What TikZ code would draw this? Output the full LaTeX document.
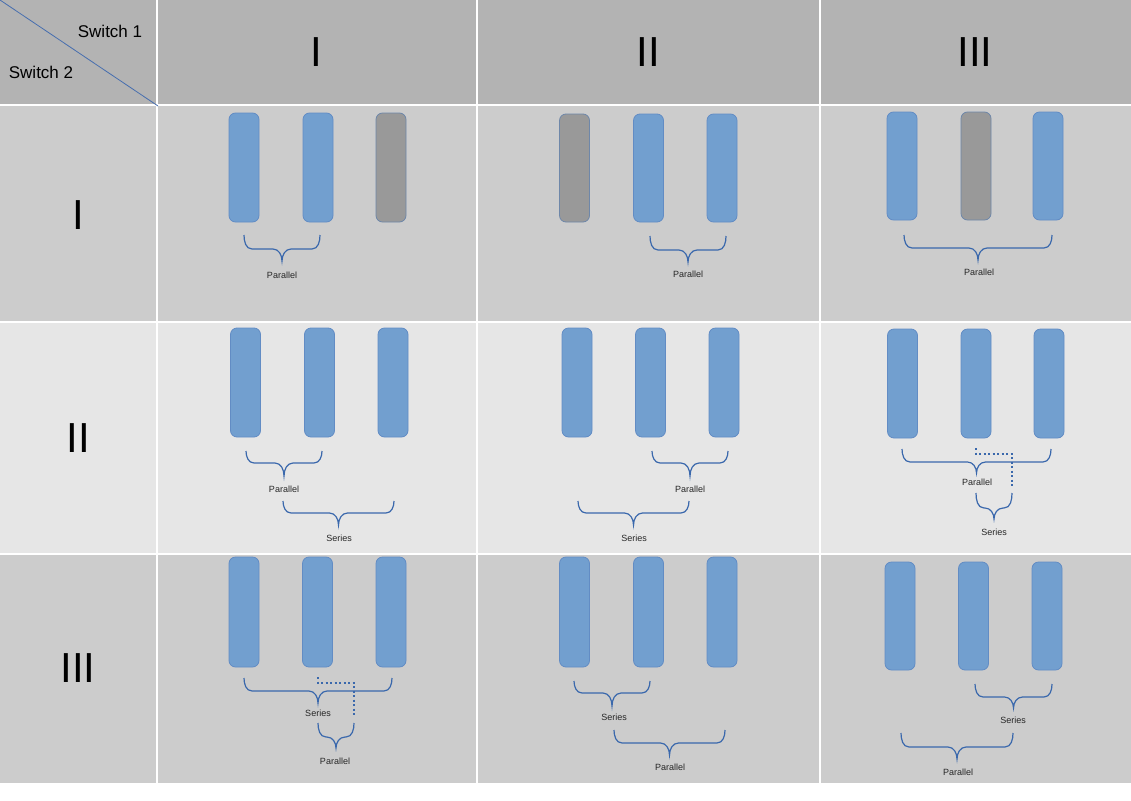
\documentclass[tikz,border=0pt]{standalone}
\usepackage{fontspec}
\setmainfont{Liberation Sans}
\definecolor{hdr}{HTML}{B3B3B3}
\definecolor{rowa}{HTML}{CCCCCC}
\definecolor{rowb}{HTML}{E6E6E6}
\definecolor{barfill}{RGB}{114,159,207}
\definecolor{barline}{RGB}{98,140,196}
\definecolor{grayfill}{HTML}{999999}
\definecolor{brcol}{RGB}{58,104,172}
\tikzset{
  bar/.style={draw=barline, fill=barfill, line width=0.8pt, rounded corners=6.5pt,
    minimum width=30pt, minimum height=109pt, inner sep=0pt, outer sep=0pt},
  offbar/.style={bar, fill=grayfill, draw=barline!60!gray},
  brc/.style={draw=brcol, line width=1.2pt},
  dots/.style={draw=brcol, line width=1.3pt, dash pattern=on 2pt off 2.5pt},
  lbl/.style={font=\fontsize{9}{10}\selectfont, text=black!85, inner sep=0pt},
  big/.style={font=\fontsize{42}{48}\selectfont, inner sep=0pt},
  sw/.style={font=\fontsize{17}{20}\selectfont, inner sep=0pt},
  grid/.style={draw=white, line width=2pt}
}
\newcommand{\mybrace}[5]{%
  \pgfmathsetmacro\brcmid{(#1+#2)/2}%
  \draw[brc] (#1,#3) to[out=-90,in=180] (#1+8,#4) -- (\brcmid-9,#4)
    to[out=0,in=90] (\brcmid,#5) to[out=90,in=180] (\brcmid+9,#4)
    -- (#2-8,#4) to[out=0,in=-90] (#2,#3);}
\begin{document}
\begin{tikzpicture}[x=1pt,y=-1pt]
\useasboundingbox (0,0) rectangle (1131,800);
\fill[white] (0,0) rectangle (1131,800);
% backgrounds
\fill[hdr] (0,0) rectangle (1131,105);
\fill[rowa] (0,105) rectangle (1131,322);
\fill[rowb] (0,322) rectangle (1131,554);
\fill[rowa] (0,554) rectangle (1131,783);
% grid
\foreach \gx in {157,477,820} \draw[grid] (\gx,0) -- (\gx,783);
\foreach \gy in {105,322,554} \draw[grid] (0,\gy) -- (1131,\gy);
% corner
\draw[draw={rgb,255:red,70;green,110;blue,175}, line width=0.8pt] (0,0) -- (158,106);
\node[sw] (sw1) at (110,31) {Switch 1};
\node[sw] (sw2) at (41,72) {Switch 2};
% headers
\node[big] (h1) at (316,52) {I};
\node[big] (h2) at (648,52) {II};
\node[big] (h3) at (975,52) {III};
\node[big] (v1) at (78,215) {I};
\node[big] (v2) at (78,438) {II};
\node[big] (v3) at (78,668) {III};

% Row I
\node[bar] (a11) at (244,167.5) {};
\node[bar] (a12) at (318,167.5) {};
\node[offbar] (a13) at (391,167.5) {};
\mybrace{244}{320}{235}{249}{261}
\node[lbl] (la1) at (282,275) {Parallel};

\node[offbar, minimum height=108pt] (b11) at (574.5,168) {};
\node[bar, minimum height=108pt] (b12) at (648.5,168) {};
\node[bar, minimum height=108pt] (b13) at (722,168) {};
\mybrace{650}{726}{236}{250}{262}
\node[lbl] (lb1) at (688,274) {Parallel};

\node[bar, minimum height=108pt] (c11) at (902,166) {};
\node[offbar, minimum height=108pt] (c12) at (976,166) {};
\node[bar, minimum height=108pt] (c13) at (1048,166) {};
\mybrace{904}{1052}{235}{248}{260}
\node[lbl] (lc1) at (979,272) {Parallel};

% Row II
\node[bar] (a21) at (245.5,382.5) {};
\node[bar] (a22) at (319.5,382.5) {};
\node[bar] (a23) at (393,382.5) {};
\mybrace{246}{322}{451}{463}{476}
\node[lbl] (la2) at (284,489) {Parallel};
\mybrace{283}{394}{501}{513}{525}
\node[lbl] (la2s) at (339,538) {Series};

\node[bar] (b21) at (577,382.5) {};
\node[bar] (b22) at (650.5,382.5) {};
\node[bar] (b23) at (724,382.5) {};
\mybrace{652}{728}{451}{463}{476}
\node[lbl] (lb2) at (690,489) {Parallel};
\mybrace{578}{689}{501}{513}{525}
\node[lbl] (lb2s) at (634,538) {Series};

\node[bar] (c21) at (902.5,383.5) {};
\node[bar] (c22) at (976,383.5) {};
\node[bar] (c23) at (1049,383.5) {};
\mybrace{902}{1051}{449}{462}{473}
\node[lbl] (lc2) at (977,482) {Parallel};
\draw[dots] (976,448) -- (976,454) -- (1012,454) -- (1012,486);
\mybrace{976}{1012}{493}{508}{519}
\node[lbl] (lc2s) at (994,532) {Series};

% Row III
\node[bar, minimum height=110pt] (a31) at (244,612) {};
\node[bar, minimum height=110pt] (a32) at (317.5,612) {};
\node[bar, minimum height=110pt] (a33) at (391,612) {};
\mybrace{244}{392}{678}{691}{703}
\node[lbl] (la3) at (318,713) {Series};
\draw[dots] (318,677) -- (318,683) -- (354,683) -- (354,715);
\mybrace{318}{354}{723}{737}{748}
\node[lbl] (la3p) at (335,761) {Parallel};

\node[bar, minimum height=110pt] (b31) at (574.5,612) {};
\node[bar, minimum height=110pt] (b32) at (648.5,612) {};
\node[bar, minimum height=110pt] (b33) at (722,612) {};
\mybrace{574}{650}{681}{693}{706}
\node[lbl] (lb3) at (614,717) {Series};
\mybrace{614}{725}{730}{743}{755}
\node[lbl] (lb3p) at (670,767) {Parallel};

\node[bar, minimum height=108pt] (c31) at (900,616) {};
\node[bar, minimum height=108pt] (c32) at (973.5,616) {};
\node[bar, minimum height=108pt] (c33) at (1047,616) {};
\mybrace{975}{1052}{684}{697}{708}
\node[lbl] (lc3) at (1013,720) {Series};
\mybrace{901}{1013}{733}{747}{759}
\node[lbl] (lc3p) at (958,772) {Parallel};
\end{tikzpicture}
\end{document}
